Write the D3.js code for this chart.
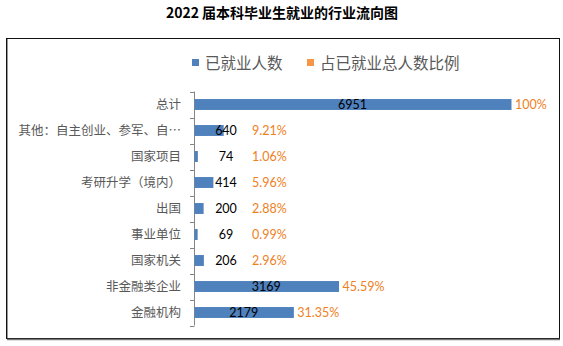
<!DOCTYPE html>
<html><head><meta charset="utf-8">
<script src="https://cdn.jsdelivr.net/npm/d3@7"></script>
<style>body{margin:0;background:#fff}svg{display:block}</style>
</head><body><svg id="c" width="563" height="346"></svg>
<script>
const title = "2022 届本科毕业生就业的行业流向图";
const categories = ["总计","其他：自主创业、参军、自…","国家项目","考研升学（境内）","出国","事业单位","国家机关","非金融类企业","金融机构"];
const counts = [6951,640,74,414,200,69,206,3169,2179];
const ratios = ["100%","9.21%","1.06%","5.96%","2.88%","0.99%","2.96%","45.59%","31.35%"];
const seriesNames = ["已就业人数","占已就业总人数比例"];
const colors = ["#4F81BD","#F79646"];

const svg = d3.select("#c");
const cjk = "'Noto Sans CJK SC','Noto Sans',sans-serif";
const num = "Lato,'Open Sans',sans-serif";

svg.append("text").attr("x",282).attr("y",18).attr("text-anchor","middle")
  .attr("font-family",cjk).attr("font-weight","bold").attr("font-size",14).attr("fill","#000").text(title);

// frame
svg.append("rect").attr("x",6.5).attr("y",38.5).attr("width",553).attr("height",300)
  .attr("fill","none").attr("stroke","#111").attr("stroke-width",1);
svg.append("line").attr("x1",7.5).attr("x2",7.5).attr("y1",39).attr("y2",338).attr("stroke","#999");
svg.append("line").attr("x1",7).attr("x2",560).attr("y1",339.5).attr("y2",339.5).attr("stroke","#777").attr("stroke-width",1.5);

const x = d3.scaleLinear().domain([0,d3.max(counts)]).range([194,511]);
const y = d3.scaleBand().domain(categories).range([91.5,325.5]).paddingInner(0.58).paddingOuter(0.29);
const band = d3.scaleBand().domain(categories).range([91.5,325.5]);

// axis with boundary ticks
const ag = svg.append("g");
ag.append("line").attr("x1",194.5).attr("x2",194.5).attr("y1",91.5).attr("y2",325.5).attr("stroke","#868686");
const bounds = categories.map(c=>band(c)).concat([325.5]);
ag.selectAll("line.t").data(bounds).join("line").attr("class","t")
  .attr("x1",190).attr("x2",194.5).attr("y1",d=>Math.round(d)+0.5).attr("y2",d=>Math.round(d)+0.5).attr("stroke","#868686");

ag.selectAll("text.cat").data(categories).join("text").attr("class","cat")
  .attr("x",181).attr("y",d=>band(d)+band.bandwidth()/2+4.5).attr("text-anchor","end")
  .attr("font-family",cjk).attr("font-size",12.5).attr("fill","#595959").text(d=>d);

// bars
svg.selectAll("rect.bar").data(categories).join("rect").attr("class","bar")
  .attr("x",x(0)+0.5).attr("y",d=>y(d)).attr("width",(d,i)=>x(counts[i])-x(0)).attr("height",y.bandwidth())
  .attr("fill",colors[0]);

const labelInfo = counts.map((v,i)=>{
  const w = x(v)-x(0);
  const big = w>60;
  const cx = big ? (x(0)+x(v))/2 : x(0)+32;
  const px = big ? x(v)+4 : x(0)+58;
  return {cx,px};
});
svg.selectAll("text.val").data(categories).join("text").attr("class","val")
  .attr("x",(d,i)=>labelInfo[i].cx).attr("y",d=>band(d)+band.bandwidth()/2+4.8).attr("text-anchor","middle")
  .attr("font-family",num).attr("font-size",12.5).attr("fill","#000").text((d,i)=>counts[i]);
svg.selectAll("text.pct").data(categories).join("text").attr("class","pct")
  .attr("x",(d,i)=>labelInfo[i].px).attr("y",d=>band(d)+band.bandwidth()/2+4.8)
  .attr("font-family",num).attr("font-size",12.5).attr("fill","#F0801E").text((d,i)=>ratios[i]);

// legend
const lg = svg.append("g");
const lx = [192,307];
seriesNames.forEach((n,i)=>{
  lg.append("rect").attr("x",lx[i]).attr("y",59).attr("width",7).attr("height",7).attr("fill",colors[i]);
  lg.append("text").attr("x",lx[i]+13).attr("y",68.5).attr("font-family",cjk).attr("font-size",15.5).attr("fill","#595959").text(n);
});
</script></body></html>
